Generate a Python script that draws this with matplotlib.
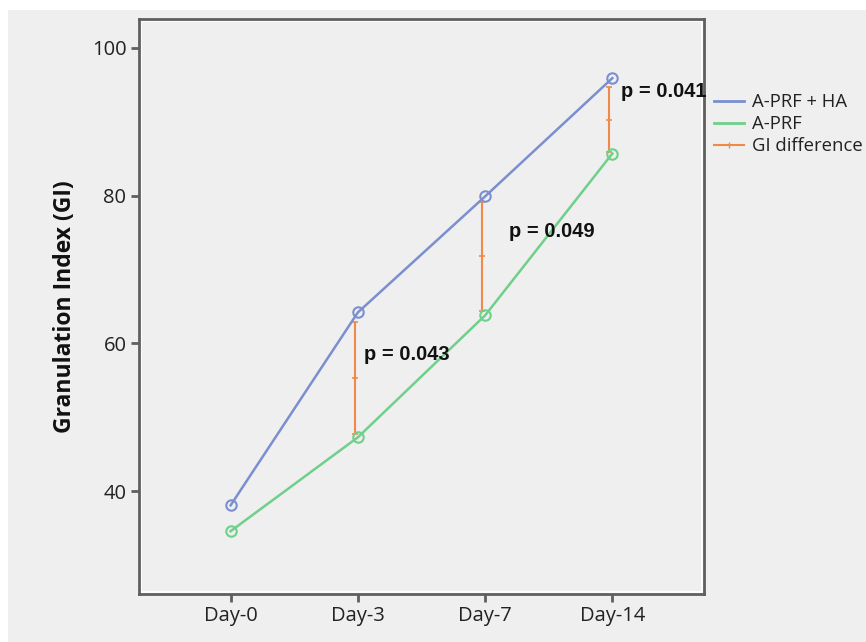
import matplotlib
matplotlib.use("Agg")
import matplotlib.pyplot as plt
from matplotlib.lines import Line2D
from matplotlib.patches import Rectangle
import numpy as np

days = ["Day-0", "Day-3", "Day-7", "Day-14"]
aprf_ha = [38.1, 64.2, 79.9, 95.9]
aprf = [34.6, 47.3, 63.8, 85.7]
diff_days = ["Day-3", "Day-7", "Day-14"]
diff_upper = [62.9, 79.2, 94.7]
diff_lower = [47.7, 64.4, 85.9]
p_labels = ["p = 0.043", "p = 0.049", "p = 0.041"]
yticks = [40, 60, 80, 100]

blue = "#7b8fd0"
green = "#6fcf8b"
orange = "#f08a4b"
bg = "#efefef"
frame = "#5f5f5f"

plt.rcParams['font.family'] = ['Open Sans', 'DejaVu Sans']

fig = plt.figure(figsize=(8.66, 6.42), dpi=100, facecolor=bg)
# white margins at top and left
fig.patches.append(Rectangle((0, 1 - 10/642), 1, 10/642, transform=fig.transFigure,
                             facecolor="white", edgecolor="none", zorder=-1))
fig.patches.append(Rectangle((0, 0), 8/866, 1, transform=fig.transFigure,
                             facecolor="white", edgecolor="none", zorder=-1))

ax = fig.add_axes([139/866, 48/642, 565/866, 575/642])
ax.set_facecolor(bg)

x = np.arange(len(days))
ax.plot(x, aprf_ha, color=blue, lw=1.8, marker="o", ms=7.5, mfc="none", mec=blue, mew=1.5, zorder=3)
ax.plot(x, aprf, color=green, lw=1.8, marker="o", ms=7.5, mfc="none", mec=green, mew=1.5, zorder=3)

xd = np.array([days.index(d) for d in diff_days]) - 0.025
up = np.array(diff_upper)
lo = np.array(diff_lower)
mid = (up + lo) / 2
ax.errorbar(xd, mid, yerr=[mid - lo, up - mid], fmt="none", ecolor=orange,
            elinewidth=1.5, capsize=2.5, capthick=1.2, zorder=2)
ax.plot(xd, mid, ls="none", marker="_", ms=4, color=orange, mew=1.2, zorder=2)

# p-value annotations
p_pos = [(1.05, 58.5), (2.19, 75.1), (3.07, 94.1)]
for (px, py), t in zip(p_pos, p_labels):
    ax.text(px, py, t, fontsize=14.5, fontweight="bold", color="#111111",
            family=["Liberation Sans", "DejaVu Sans"], va="center", ha="left",
            zorder=5, clip_on=False)

ax.set_xlim(-0.72, 3.72)
ax.set_ylim(26.1, 103.9)
ax.set_xticks(x)
ax.set_xticklabels(days)
ax.set_yticks(yticks)
ax.tick_params(axis="both", length=6, width=2, color=frame, labelsize=14.5,
               labelcolor="#222222", pad=3)
ax.tick_params(axis="x", pad=3)
for s in ax.spines.values():
    s.set_color(frame)
    s.set_linewidth(2)
# inner white line of the frame
ax.add_patch(Rectangle((0.004, 0.004), 0.992, 0.992, transform=ax.transAxes,
                       fill=False, edgecolor="white", lw=1.2, zorder=1))

ax.set_ylabel("Granulation Index (GI)", fontsize=16.5, fontweight="bold",
              color="#111111", labelpad=11)

handles = [Line2D([0], [0], color=blue, lw=2),
           Line2D([0], [0], color=green, lw=2),
           Line2D([0], [0], color=orange, lw=1.5, marker="|", ms=4, markevery=[0, -1])]
leg = fig.legend(handles, ["A-PRF + HA", "A-PRF", "GI difference"],
                 loc="upper left", bbox_to_anchor=(714/866, 1 - 93/642),
                 frameon=False, fontsize=13.3, handlelength=1.6, handletextpad=0.45,
                 labelspacing=0.22, borderaxespad=0, borderpad=0)
for t in leg.get_texts():
    t.set_color("#222222")

fig.savefig("out.png", dpi=100, facecolor=bg)
